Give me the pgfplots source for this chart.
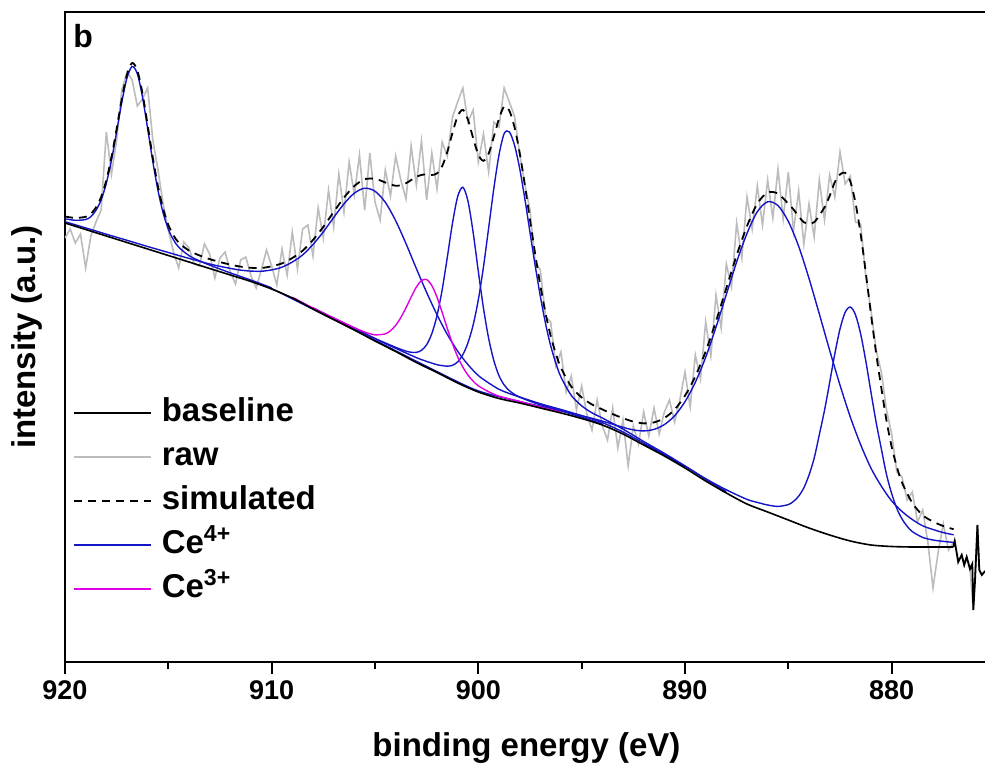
\documentclass[border=0pt]{standalone}
\usepackage{fontspec}
\setmainfont{Liberation Sans}
\usepackage{pgfplots}
\pgfplotsset{compat=1.18}
\definecolor{ceblue}{RGB}{20,20,200}
\definecolor{cemag}{RGB}{225,0,225}
\definecolor{rawgray}{RGB}{188,188,188}
\begin{document}
\begin{tikzpicture}
\begin{axis}[
  scale only axis,
  width=461.9pt, height=325pt,
  x dir=reverse,
  xmin=875.3, xmax=920,
  ymin=0, ymax=650,
  xtick={880,890,900,910,920},
  minor xtick={885,895,905,915},
  ytick=\empty,
  xtick pos=left,
  tick align=outside,
  major tick length=5.8pt, minor tick length=3.5pt,
  major tick style={line width=1.1pt, black},
  minor tick style={line width=1.1pt, black},
  axis line style={line width=1.1pt},
  /pgf/number format/assume math mode=true,
  xticklabel style={font=\fontsize{13.5}{16}\selectfont\bfseries},
  xlabel={binding energy (eV)}, ylabel={intensity (a.u.)},
  label style={font=\fontsize{16.5}{19}\selectfont\bfseries},
  xlabel style={at={(axis description cs:0.4995,-0.1446)}, anchor=base},
  ylabel style={at={(axis description cs:-0.0314,0.5)}, anchor=base},
  legend style={draw=none, fill=none, at={(axis description cs:0.00866,0.4062)}, anchor=north west,
    inner sep=0pt, outer sep=0pt, row sep=7pt, column sep=5pt,
    font=\fontsize{16.5}{19}\selectfont\bfseries,
    nodes={inner sep=0pt, text height=12pt, text depth=3pt}},
  legend cell align=left,
  legend image code/.code={\draw[#1] (0pt,0pt) -- (38.5pt,0pt);},
]
\addlegendimage{black, line width=0.8pt}
\addlegendimage{rawgray, line width=0.8pt}
\addlegendimage{black, line width=0.9pt, dash pattern=on 4pt off 3pt}
\addlegendimage{ceblue, line width=0.7pt}
\addlegendimage{cemag, line width=0.7pt}
\legend{baseline, raw, simulated, Ce\textsuperscript{4+}, Ce\textsuperscript{3+}}

% raw
\addplot[rawgray, line width=0.8pt, forget plot] coordinates {
(920,424) (919.75,433) (919.5,419) (919.25,428) (919,394) (918.75,426) (918.5,440) (918.25,452) (918,530) (917.75,488) (917.5,522) (917.25,572) (917,590) (916.75,582) (916.5,556) (916.25,563) (916,574) (915.75,522) (915.5,492) (915.25,458) (915,432) (914.75,410) (914.5,394) (914.25,420) (914,414) (913.75,398) (913.5,396) (913.25,418) (913,408) (912.75,384) (912.5,404) (912.25,410) (912,390) (911.75,378) (911.5,402) (911.25,405) (911,386) (910.75,374) (910.5,392) (910.25,412) (910,396) (909.75,377) (909.5,413) (909.25,387) (909,430) (908.75,393) (908.5,433) (908.25,437) (908,406) (907.75,454) (907.5,424) (907.25,472) (907,435) (906.75,488) (906.5,450) (906.25,500) (906,467) (905.75,507) (905.5,452) (905.25,509) (905,460) (904.75,442) (904.5,492) (904.25,466) (904,506) (903.75,482) (903.5,463) (903.25,516) (903,477) (902.75,521) (902.5,462) (902.25,509) (902,473) (901.75,520) (901.5,506) (901.25,545) (901,560) (900.75,574) (900.5,540) (900.25,552) (900,500) (899.75,528) (899.5,490) (899.25,540) (899,535) (898.75,574) (898.5,560) (898.25,546) (898,508) (897.75,478) (897.5,452) (897.25,400) (897,392) (896.75,346) (896.5,340) (896.25,296) (896,310) (895.75,270) (895.5,286) (895.25,252) (895,276) (894.75,248) (894.5,232) (894.25,262) (894,236) (893.75,222) (893.5,254) (893.25,214) (893,242) (892.75,196) (892.5,236) (892.25,218) (892,250) (891.75,226) (891.5,254) (891.25,228) (891,250) (890.75,262) (890.5,240) (890.25,262) (890,290) (889.75,255) (889.5,307) (889.25,283) (889,340) (888.75,306) (888.5,367) (888.25,334) (888,398) (887.75,375) (887.5,439) (887.25,404) (887,465) (886.75,433) (886.5,476) (886.25,437) (886,482) (885.75,444) (885.5,493) (885.25,443) (885,490) (884.75,431) (884.5,471) (884.25,418) (884,458) (883.75,425) (883.5,482) (883.25,442) (883,487) (882.75,465) (882.5,510) (882.25,478) (882,486) (881.75,440) (881.5,438) (881.25,385) (881,352) (880.75,312) (880.5,290) (880.25,252) (880,228) (879.75,190) (879.5,185) (879.25,162) (879,170) (878.75,140) (878.5,152) (878.25,120) (878,74) (877.75,110) (877.5,138) (877.25,112) (877,120) (876.95,121) (876.78,100) (876.61,107) (876.49,97) (876.37,105) (876.21,93) (876.05,52) (875.85,137) (875.76,92) (875.64,87) (875.52,90) (875.4,92)
};

% Ce4+ components
\addplot[ceblue, line width=0.7pt, smooth, forget plot] coordinates {
(920,443.2) (919.5,441.7) (919,442.5) (918.75,445.3) (918.5,451.7) (918.25,462.1) (918,478.7) (917.75,501.8) (917.5,530.3) (917.25,559.9) (917,584.1) (916.75,595.5) (916.5,588.2) (916.25,565.0) (916,533.3) (915.75,500.4) (915.5,471.6) (915.25,449.0) (915,432.8) (914.75,422.2) (914.5,414.9) (914,406.4) (913.5,401.2) (913,396.9) (912,389.1) (911,381.9) (910,374.1)
};
\addplot[ceblue, line width=0.7pt, smooth, forget plot] coordinates {
(920,440.3) (919,434.1) (918,427.8) (917,421.7) (916,415.5) (915,409.5) (914,403.6) (913.5,400.75) (913,398) (912.5,395.65) (912,393.6) (911.5,391.85) (911,390.9) (910.5,390.75) (910,392.1) (909.5,394.8) (909,400) (908.5,407.1) (908,417.5) (907.5,430.15) (907,444.5) (906.5,458.15) (906,468.8) (905.5,473.8) (905,470.8) (904.5,459.65) (904,441.3) (903.5,418.4) (903,393.5) (902.5,369.5) (902,347.3) (901.5,327.55) (901,310.8) (900.5,297.3) (900,286.5) (899.5,279.05) (899,272.7) (898.5,268.45) (898,265) (897,258.3) (896,252.5) (895,246.35) (894,239.4) (893,230) (892,218.8) (891,207.5) (890,195.35)
};
\addplot[ceblue, line width=0.7pt, smooth, forget plot] coordinates {
(908,354) (907,343.75) (906,333.7) (905,323.6) (904,314.7) (903.5,310.9) (903.25,309.75) (903,309.6) (902.75,311.7) (902.5,317.3) (902.25,328.4) (902,346.3) (901.75,372.2) (901.5,404.85) (901.25,438.8) (901,465.3) (900.75,474.75) (900.5,460.8) (900.25,429.45) (900,390.6) (899.75,353.7) (899.5,323.55) (899.25,301.5) (899,286.3) (898.75,277.1) (898.5,271.35) (898.25,267.6) (898,264.9) (897.5,260.7) (897,257.3) (896,251.1) (895,244.9) (894,238)
};
\addplot[ceblue, line width=0.7pt, smooth, forget plot] coordinates {
(908,354.2) (907,343.9) (906,333.8) (905,323.3) (904,313.7) (903,304.4) (902.5,300.6) (902,297.3) (901.75,296.4) (901.5,295.85) (901.25,296.7) (901,300.1) (900.75,307.25) (900.5,319.3) (900.25,337.05) (900,362.3) (899.75,395.3) (899.5,434.15) (899.25,473.5) (899,507) (898.75,528.4) (898.5,530.15) (898.25,516.9) (898,493.6) (897.75,463.25) (897.5,429.6) (897.25,396.45) (897,365.8) (896.75,338.65) (896.5,316.3) (896.25,298.85) (896,284.9) (895.5,266.55) (895,256.2) (894.5,249.15) (894,244) (893,232.9) (892,220.5) (891,208.7) (890,196.1) (889,182.7) (888,170.4)
};
\addplot[ceblue, line width=0.7pt, smooth, forget plot] coordinates {
(910,373.5) (905,321.7) (902,290.4) (900,271.1) (898,260.5) (897,255.8) (896,251.2) (895,246.3) (894,240.9) (893,234.7) (892.5,232.1) (892,231.1) (891.5,232.6) (891,237.4) (890.5,246.3) (890,260.3) (889.5,279.7) (889,304.7) (888.5,334.8) (888,367.5) (887.5,400.1) (887,428.6) (886.5,450.3) (886,460.2) (885.5,456.4) (885,440.6) (884.5,415.7) (884,383.6) (883.5,348) (883,311.7) (882.5,276.9) (882,244.9) (881.5,217.3) (881,193.8) (880.5,175.85) (880,161.1) (879.5,150.55) (879,142.5) (878.5,136.2) (878,132.5) (877.5,129.4) (877,127.2)
};
\addplot[ceblue, line width=0.7pt, smooth, forget plot] coordinates {
(892,218.2) (890,195.8) (889,183.3) (888,172.2) (887,162.6) (886.5,159.6) (886,157) (885.5,155.6) (885,157.4) (884.75,160.6) (884.5,165.8) (884.25,174.1) (884,186.9) (883.75,203.85) (883.5,227.4) (883.25,251.65) (883,279.6) (882.75,308.3) (882.5,333) (882.25,349.7) (882,355) (881.75,347.2) (881.5,328) (881.25,300.8) (881,269.6) (880.75,239.5) (880.5,213.15) (880.25,187.5) (880,168.4) (879.75,153.5) (879.5,143.05) (879.25,135.7) (879,130.4) (878.5,124.6) (878,122) (877.5,120.6) (877,119.6)
};
% Ce3+ component
\addplot[cemag, line width=0.7pt, smooth, forget plot] coordinates {
(909,364.8) (908,354) (907,344) (906,334.4) (905.5,330) (905,327.2) (904.5,328.15) (904.25,331.3) (904,336.7) (903.75,344.45) (903.5,354.2) (903.25,364.95) (903,374.9) (902.75,381.4) (902.5,382.5) (902.25,376.4) (902,364.9) (901.75,349.6) (901.5,333.45) (901.25,318.3) (901,305.2) (900.75,294.95) (900.5,286.9) (900.25,280.85) (900,276.2) (899.5,270.25) (899,265.9) (898,260.5) (897,255) (896,249.8)
};
% simulated
\addplot[black, line width=0.9pt, dash pattern=on 4pt off 3pt, smooth, forget plot] coordinates {
(920,445.5) (919.5,444.1) (919,445.2) (918.75,448.15) (918.5,454.55) (918.25,465.05) (918,481.7) (917.75,504.85) (917.5,533.35) (917.25,563.1) (917,587.5) (916.75,599) (916.5,591.7) (916.25,568.6) (916,537) (915.75,504.2) (915.5,475.6) (915.25,453.15) (915,437.1) (914.75,426.65) (914.5,419.5) (914,411.4) (913.5,406.6) (913,402.9) (912.5,399.95) (912,397.4) (911.5,395.35) (911,394.2) (910.5,394) (910,395.7) (909.5,398.6) (909,404) (908.5,411.3) (908,422.05) (907.5,435.15) (907,449.95) (906.5,464.4) (906,476) (905.5,482.75) (905,483.25) (904.75,481.6) (904.5,479.45) (904.25,477.65) (904,476.2) (903.75,476.8) (903.5,478.75) (903.25,481.95) (903,485.15) (902.75,487.05) (902.5,487.65) (902.25,487) (902,488.6) (901.75,495.8) (901.5,510.25) (901.25,529.2) (901,545.8) (900.75,552.15) (900.5,542.2) (900.25,523.8) (900,507.3) (899.75,501.2) (899.5,508.55) (899.25,525.25) (899,543.3) (898.75,555.5) (898.5,551.35) (898.25,534.8) (898,509.2) (897.75,477.1) (897.5,442.2) (897.25,408.15) (897,376.7) (896.75,348.9) (896.5,326.25) (896.25,308.4) (896,294.1) (895.5,275.3) (895,264.55) (894.5,257.55) (894,252.6) (893.5,247.95) (893,243.8) (892.5,240.4) (892,238.65) (891.5,239.6) (891,243.95) (890.5,252.5) (890,266.35) (889.5,285.65) (889,310.55) (888.5,340.8) (888,373.75) (887.5,406.75) (887,435.9) (886.5,458.35) (886,469.5) (885.5,468.35) (885,458.25) (884.75,452.55) (884.5,445.6) (884.25,439.75) (884,438.45) (883.75,439.75) (883.5,446.7) (883.25,454.6) (883,466) (882.75,479.95) (882.5,487.55) (882.25,489.15) (882,480.45) (881.75,459.05) (881.5,427.75) (881.25,389.15) (881,347.7) (880.75,308.45) (880.5,274) (880.25,241.4) (880,215.2) (879.75,195.25) (879.5,179.45) (879,159) (878.5,146.8) (878,140.45) (877.5,135.95) (877,132.75)
};
% baseline
\addplot[black, line width=0.8pt, smooth, forget plot] coordinates {
(920,439) (919,432.5) (918,426) (917,419.5) (916,413) (915,406.5) (914,400) (913,393.5) (912,387) (911,380.5) (910,373) (909,364) (908,353) (907,342.5) (906,332) (905,321) (904,310.5) (903,299.5) (902,289.5) (901,279) (900,270) (899,263.5) (898,259) (897,254) (896,249) (895,243.5) (894,237) (893,228) (892,217) (891,206) (890,194) (889,181) (888,169) (887,158) (886,150) (885,142) (884,134) (883,127) (882,121) (881,117) (880,115.5) (879,115) (878,115) (877.02,115)
};
\addplot[black, line width=0.9pt, forget plot] coordinates {
(877.02,115) (876.95,121) (876.78,100) (876.61,107) (876.49,97) (876.37,105) (876.21,93) (876.1,98) (876.05,52) (875.97,80) (875.85,137) (875.76,92) (875.64,87) (875.52,90) (875.4,92)
};
\node[anchor=base west, font=\fontsize{16}{18}\selectfont\bfseries, inner sep=0pt] at (axis description cs:0.0087,0.946) {b};
\coordinate (bl) at (axis description cs:0,0);
\coordinate (tl) at (axis description cs:0,1);
\end{axis}
\pgfresetboundingbox
\path[use as bounding box] ([shift={(-32.5pt,-55pt)}]bl) rectangle ([shift={(460pt,6pt)}]tl);
\end{tikzpicture}
\end{document}
